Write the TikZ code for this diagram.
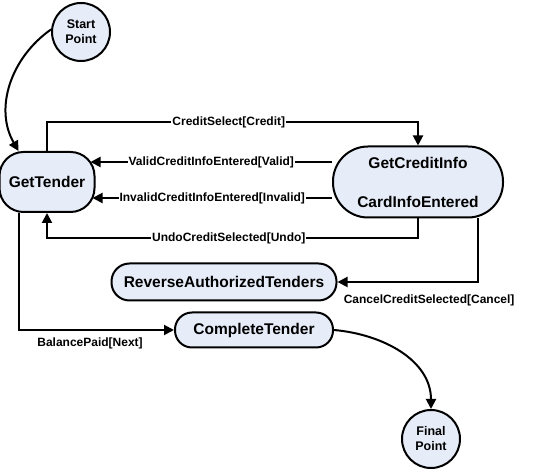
\documentclass[tikz,border=0pt]{standalone}
\usepackage{fontspec}
\setmainfont{Liberation Sans}
\usetikzlibrary{calc, arrows.meta, backgrounds}
\definecolor{statefill}{HTML}{E6ECF8}

\begin{document}
\begin{tikzpicture}[x=1pt, y=1pt,
    state/.style={draw, line width=2pt, fill=statefill, rounded corners=#1,
      inner sep=0pt, font=\fontsize{15.5}{17}\selectfont\bfseries},
    point/.style={circle, draw, line width=2pt, fill=statefill, minimum size=58pt,
      inner sep=0pt, align=center, font=\fontsize{12.5}{15}\selectfont\bfseries},
    trans/.style={line width=2pt, -{Triangle[length=10pt, width=10pt]}},
    lbl/.style={fill=white, inner sep=1pt, font=\fontsize{12}{13}\selectfont\bfseries}]

  \useasboundingbox (0,0) rectangle (556,470);

  % Початкова та кінцева точки
  \node[point] (Start) at (81,438) {Start\\Point};
  \node[point] (Final) at (431,31) {Final\\Point};

  % Стани
  \node[state=24pt, minimum width=95pt, minimum height=60pt] (GetTender) at (47,288) {GetTender};
  \node[state=35pt, minimum width=170pt, minimum height=71pt, align=center]
    (GetCreditInfo) at (418,288) {GetCreditInfo\\[22pt]CardInfoEntered};
  \node[state=18pt, minimum width=225pt, minimum height=37pt] (Reverse) at (224,188) {ReverseAuthorizedTenders};
  \node[state=17pt, minimum width=158pt, minimum height=35pt] (Complete) at (254,140) {CompleteTender};

  % Переходи (під вузлами)
  \begin{scope}[on background layer]
    \draw[trans] (Start.175) to[out=215, in=120] ([xshift=20pt]GetTender.north west);
    \draw[trans] (GetTender.north) -- ++(0,29)
      -| node[lbl, pos=0.245] {CreditSelect[Credit]} (GetCreditInfo.north);
    \draw[trans] (GetCreditInfo.west |- 0,308)
      -- node[lbl] {ValidCreditInfoEntered[Valid]} ([xshift=-5pt]GetTender.east |- 0,308);
    \draw[trans] (GetCreditInfo.west |- 0,272)
      -- node[lbl] {InvalidCreditInfoEntered[Invalid]} ([xshift=-3pt]GetTender.east |- 0,272);
    \draw[trans] (GetCreditInfo.south) -- ++(0,-19.5)
      -| node[lbl, pos=0.255] {UndoCreditSelected[Undo]} (GetTender.south);
    % Скасування
    \draw[trans] (GetCreditInfo.south -| 478,0)
      |- node[lbl, pos=0.674, yshift=-18pt] {CancelCreditSelected[Cancel]} (Reverse.east);
    % Оплата завершена
    \draw[trans] ([xshift=20pt]GetTender.south west)
      |- node[lbl, pos=0.73, yshift=-13pt] {BalancePaid[Next]} (Complete.west);
    \draw[trans] (Complete.east) to[out=-5, in=90] (Final.north);
  \end{scope}
\end{tikzpicture}
\end{document}
